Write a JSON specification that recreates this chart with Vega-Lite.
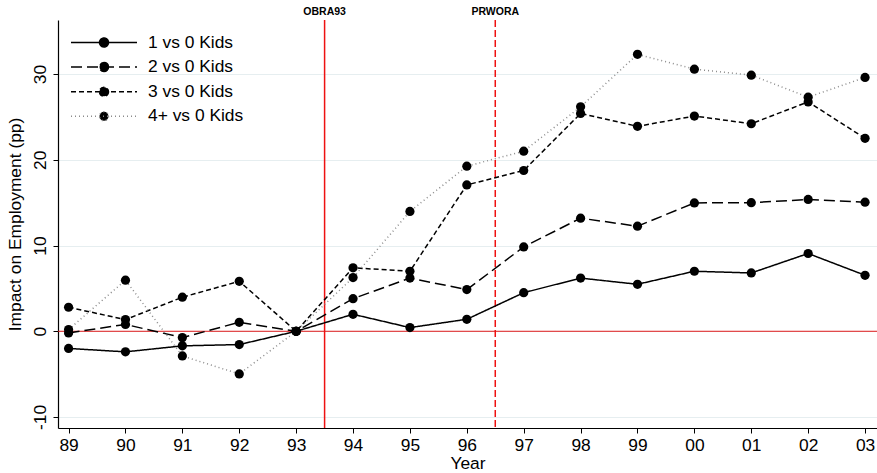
{
  "$schema": "https://vega.github.io/schema/vega-lite/v6.json",
  "width": 819,
  "height": 408,
  "autosize": "none",
  "padding": {"left": 58, "top": 20, "right": 0, "bottom": 45},
  "background": "white",
  "config": {
    "font": "Liberation Sans",
    "view": {"stroke": null},
    "axis": {"labelColor": "black", "titleColor": "black", "domainColor": "black", "tickColor": "black", "labelFont": "Liberation Sans", "titleFont": "Liberation Sans", "titleFontWeight": "normal"}
  },
  "datasets": {
    "series": [
      {"series": "1 vs 0 Kids", "year": 1989, "value": -2.0},
      {"series": "1 vs 0 Kids", "year": 1990, "value": -2.4},
      {"series": "1 vs 0 Kids", "year": 1991, "value": -1.7},
      {"series": "1 vs 0 Kids", "year": 1992, "value": -1.55},
      {"series": "1 vs 0 Kids", "year": 1993, "value": 0},
      {"series": "1 vs 0 Kids", "year": 1994, "value": 1.98},
      {"series": "1 vs 0 Kids", "year": 1995, "value": 0.43},
      {"series": "1 vs 0 Kids", "year": 1996, "value": 1.4},
      {"series": "1 vs 0 Kids", "year": 1997, "value": 4.5},
      {"series": "1 vs 0 Kids", "year": 1998, "value": 6.2},
      {"series": "1 vs 0 Kids", "year": 1999, "value": 5.48},
      {"series": "1 vs 0 Kids", "year": 2000, "value": 7.0},
      {"series": "1 vs 0 Kids", "year": 2001, "value": 6.8},
      {"series": "1 vs 0 Kids", "year": 2002, "value": 9.07},
      {"series": "1 vs 0 Kids", "year": 2003, "value": 6.53},
      {"series": "2 vs 0 Kids", "year": 1989, "value": -0.2},
      {"series": "2 vs 0 Kids", "year": 1990, "value": 0.8},
      {"series": "2 vs 0 Kids", "year": 1991, "value": -0.74},
      {"series": "2 vs 0 Kids", "year": 1992, "value": 1.05},
      {"series": "2 vs 0 Kids", "year": 1993, "value": 0},
      {"series": "2 vs 0 Kids", "year": 1994, "value": 3.8},
      {"series": "2 vs 0 Kids", "year": 1995, "value": 6.2},
      {"series": "2 vs 0 Kids", "year": 1996, "value": 4.86},
      {"series": "2 vs 0 Kids", "year": 1997, "value": 9.84},
      {"series": "2 vs 0 Kids", "year": 1998, "value": 13.19},
      {"series": "2 vs 0 Kids", "year": 1999, "value": 12.25},
      {"series": "2 vs 0 Kids", "year": 2000, "value": 14.97},
      {"series": "2 vs 0 Kids", "year": 2001, "value": 15.0},
      {"series": "2 vs 0 Kids", "year": 2002, "value": 15.37},
      {"series": "2 vs 0 Kids", "year": 2003, "value": 15.05},
      {"series": "3 vs 0 Kids", "year": 1989, "value": 2.8},
      {"series": "3 vs 0 Kids", "year": 1990, "value": 1.36},
      {"series": "3 vs 0 Kids", "year": 1991, "value": 3.97},
      {"series": "3 vs 0 Kids", "year": 1992, "value": 5.83},
      {"series": "3 vs 0 Kids", "year": 1993, "value": 0},
      {"series": "3 vs 0 Kids", "year": 1994, "value": 7.4},
      {"series": "3 vs 0 Kids", "year": 1995, "value": 7.0},
      {"series": "3 vs 0 Kids", "year": 1996, "value": 17.07},
      {"series": "3 vs 0 Kids", "year": 1997, "value": 18.75},
      {"series": "3 vs 0 Kids", "year": 1998, "value": 25.4},
      {"series": "3 vs 0 Kids", "year": 1999, "value": 23.9},
      {"series": "3 vs 0 Kids", "year": 2000, "value": 25.1},
      {"series": "3 vs 0 Kids", "year": 2001, "value": 24.2},
      {"series": "3 vs 0 Kids", "year": 2002, "value": 26.75},
      {"series": "3 vs 0 Kids", "year": 2003, "value": 22.5},
      {"series": "4+ vs 0 Kids", "year": 1989, "value": 0.2},
      {"series": "4+ vs 0 Kids", "year": 1990, "value": 5.96},
      {"series": "4+ vs 0 Kids", "year": 1991, "value": -2.88},
      {"series": "4+ vs 0 Kids", "year": 1992, "value": -4.98},
      {"series": "4+ vs 0 Kids", "year": 1993, "value": 0},
      {"series": "4+ vs 0 Kids", "year": 1994, "value": 6.26},
      {"series": "4+ vs 0 Kids", "year": 1995, "value": 13.97},
      {"series": "4+ vs 0 Kids", "year": 1996, "value": 19.25},
      {"series": "4+ vs 0 Kids", "year": 1997, "value": 21.0},
      {"series": "4+ vs 0 Kids", "year": 1998, "value": 26.17},
      {"series": "4+ vs 0 Kids", "year": 1999, "value": 32.3},
      {"series": "4+ vs 0 Kids", "year": 2000, "value": 30.57},
      {"series": "4+ vs 0 Kids", "year": 2001, "value": 29.87},
      {"series": "4+ vs 0 Kids", "year": 2002, "value": 27.3},
      {"series": "4+ vs 0 Kids", "year": 2003, "value": 29.6}
    ],
    "events": [
      {"label": "OBRA93", "year": 1993.5, "kind": "solid"},
      {"label": "PRWORA", "year": 1996.5, "kind": "dashed"}
    ]
  },
  "layer": [
    {
      "data": {"values": [{"zero": 0}]},
      "mark": {"type": "rule", "color": "#e01a1a", "strokeWidth": 1},
      "encoding": {
        "y": {"field": "zero", "type": "quantitative", "scale": {"domain": [-11.28, 36.3], "nice": false, "zero": false},
          "axis": {"title": "Impact on Employment (pp)", "values": [-10, 0, 10, 20, 30], "labelExpr": "toString(datum.value)", "labelAngle": -90, "labelAlign": "center", "labelBaseline": "bottom", "labelFontSize": 17.4, "labelPadding": 4, "tickSize": 5, "grid": true, "gridColor": "#e6eef0", "gridWidth": 1, "titleFontSize": 17.4, "titlePadding": 7, "domainWidth": 1.2}}
      }
    },
    {
      "data": {"name": "events"},
      "transform": [{"filter": "datum.kind == 'solid'"}],
      "mark": {"type": "rule", "color": "#ee1111", "strokeWidth": 1.5},
      "encoding": {
        "x": {"field": "year", "type": "quantitative"}
      }
    },
    {
      "data": {"name": "events"},
      "transform": [{"filter": "datum.kind == 'dashed'"}],
      "mark": {"type": "rule", "color": "#ee1111", "strokeWidth": 1.5, "strokeDash": [7, 3]},
      "encoding": {
        "x": {"field": "year", "type": "quantitative"}
      }
    },
    {
      "data": {"name": "events"},
      "mark": {"type": "text", "fontWeight": "bold", "fontSize": 10.5, "font": "Liberation Sans", "baseline": "middle", "align": "center", "color": "black"},
      "encoding": {
        "x": {"field": "year", "type": "quantitative"},
        "y": {"datum": 37.2},
        "text": {"field": "label"}
      }
    },
    {
      "data": {"name": "series"},
      "mark": {"type": "line", "strokeWidth": 1.5},
      "encoding": {
        "x": {"field": "year", "type": "quantitative", "scale": {"domain": [1988.814, 2003.21], "nice": false, "zero": false},
          "axis": {"title": "Year", "values": [1989, 1990, 1991, 1992, 1993, 1994, 1995, 1996, 1997, 1998, 1999, 2000, 2001, 2002, 2003], "labelExpr": "slice(toString(datum.value), 2)", "labelFontSize": 17.4, "labelPadding": 3, "tickSize": 5, "grid": false, "titleFontSize": 17.4, "titlePadding": 1, "domainWidth": 1.2}},
        "y": {"field": "value", "type": "quantitative"},
        "color": {"field": "series", "type": "nominal", "scale": {"domain": ["1 vs 0 Kids", "2 vs 0 Kids", "3 vs 0 Kids", "4+ vs 0 Kids"], "range": ["black", "black", "black", "#8c8c8c"]},
          "legend": {"title": null, "orient": "none", "legendX": 37, "legendY": 13.5, "padding": 0, "symbolType": "M-4.125,0H4.125M0.5625,0A0.5625,0.5625,0,1,1,-0.5625,0A0.5625,0.5625,0,1,1,0.5625,0Z", "symbolSize": 256, "symbolStrokeWidth": 1.5, "symbolFillColor": "black", "labelOffset": 35, "labelFontSize": 17.4, "labelFont": "Liberation Sans", "labelColor": "black", "rowPadding": 6.6}},
        "strokeDash": {"field": "series", "type": "nominal", "scale": {"domain": ["1 vs 0 Kids", "2 vs 0 Kids", "3 vs 0 Kids", "4+ vs 0 Kids"], "range": [[1, 0], [11, 5], [5, 3], [1, 3]]},
          "legend": {"title": null, "orient": "none", "legendX": 37, "legendY": 13.5, "padding": 0, "symbolType": "M-4.125,0H4.125M0.5625,0A0.5625,0.5625,0,1,1,-0.5625,0A0.5625,0.5625,0,1,1,0.5625,0Z", "symbolSize": 256, "symbolStrokeWidth": 1.5, "symbolFillColor": "black", "labelOffset": 35, "labelFontSize": 17.4, "labelFont": "Liberation Sans", "labelColor": "black", "rowPadding": 6.6}}
      }
    },
    {
      "data": {"name": "series"},
      "mark": {"type": "point", "filled": true, "size": 85, "color": "black", "opacity": 1},
      "encoding": {
        "x": {"field": "year", "type": "quantitative"},
        "y": {"field": "value", "type": "quantitative"}
      }
    }
  ]
}
